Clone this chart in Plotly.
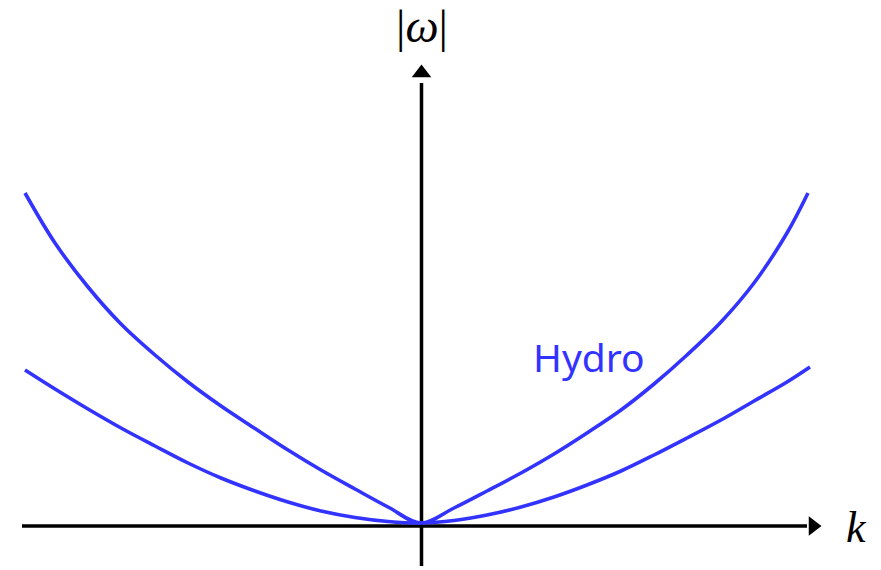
import plotly.graph_objects as go

# Dispersion branches |omega|(k), arbitrary units
k_hydro = [-3.96, -3.66, -3.33, -3.00, -2.66, -2.33, -2.00, -1.66, -1.33, -1.00, -0.66, -0.33,
           0.00, 0.33, 0.66, 1.00, 1.33, 1.66, 2.00, 2.33, 2.66, 3.00, 3.33, 3.66, 3.87]
w_hydro = [3.30, 2.80, 2.36, 1.99, 1.68, 1.41, 1.17, 0.945, 0.73, 0.53, 0.34, 0.16,
           0.00, 0.15, 0.32, 0.50, 0.69, 0.90, 1.13, 1.39, 1.68, 2.01, 2.40, 2.90, 3.30]

k_quad = [-3.96, -3.66, -3.33, -3.00, -2.66, -2.33, -2.00, -1.66, -1.33, -1.00, -0.66, -0.33,
          0.00, 0.33, 0.66, 1.00, 1.33, 1.66, 2.00, 2.33, 2.66, 3.00, 3.33, 3.66, 3.89]
w_quad = [1.53, 1.34, 1.14, 0.95, 0.77, 0.60, 0.45, 0.32, 0.21, 0.12, 0.055, 0.015,
          0.00, 0.025, 0.08, 0.16, 0.26, 0.38, 0.52, 0.68, 0.85, 1.03, 1.22, 1.41, 1.56]

BLUE = "rgb(51,51,255)"
BLACK = "black"

fig = go.Figure()

# axes drawn as lines with arrowheads
fig.add_trace(go.Scatter(x=[-3.99, 3.86], y=[-0.03, -0.03], mode="lines",
                         line=dict(color=BLACK, width=3.5), hoverinfo="skip"))
fig.add_trace(go.Scatter(x=[0.005, 0.005], y=[-0.43, 4.40], mode="lines",
                         line=dict(color=BLACK, width=3.5), hoverinfo="skip"))
fig.add_trace(go.Scatter(x=[3.92], y=[-0.03], mode="markers",
                         marker=dict(symbol="triangle-right", size=17, color=BLACK),
                         hoverinfo="skip"))
fig.add_trace(go.Scatter(x=[0.005], y=[4.50], mode="markers",
                         marker=dict(symbol="triangle-up", size=17, color=BLACK),
                         hoverinfo="skip"))

# dispersion curves
fig.add_trace(go.Scatter(x=k_hydro, y=w_hydro, mode="lines",
                         line=dict(color=BLUE, width=3.6, shape="spline", smoothing=1.0)))
fig.add_trace(go.Scatter(x=k_quad, y=w_quad, mode="lines",
                         line=dict(color=BLUE, width=3.6, shape="spline", smoothing=1.0)))

fig.add_annotation(x=0.01, y=4.97, text="|<i>ω</i>|", showarrow=False,
                   font=dict(family="Liberation Serif", size=47, color=BLACK),
                   xanchor="center", yanchor="middle")
fig.add_annotation(x=4.35, y=-0.04, text="<i>k</i>", showarrow=False,
                   font=dict(family="Liberation Serif", size=44, color=BLACK),
                   xanchor="center", yanchor="middle")
fig.add_annotation(x=1.68, y=1.67, text="Hydro", showarrow=False,
                   font=dict(family="Noto Sans", size=39, color=BLUE),
                   xanchor="center", yanchor="middle")

fig.update_layout(
    width=881, height=570,
    margin=dict(l=0, r=0, t=0, b=0),
    paper_bgcolor="white", plot_bgcolor="white",
    showlegend=False,
    xaxis=dict(range=[-4.21, 4.60], visible=False, fixedrange=True),
    yaxis=dict(range=[-0.47, 5.23], visible=False, fixedrange=True),
)

fig.write_html("out.html")
